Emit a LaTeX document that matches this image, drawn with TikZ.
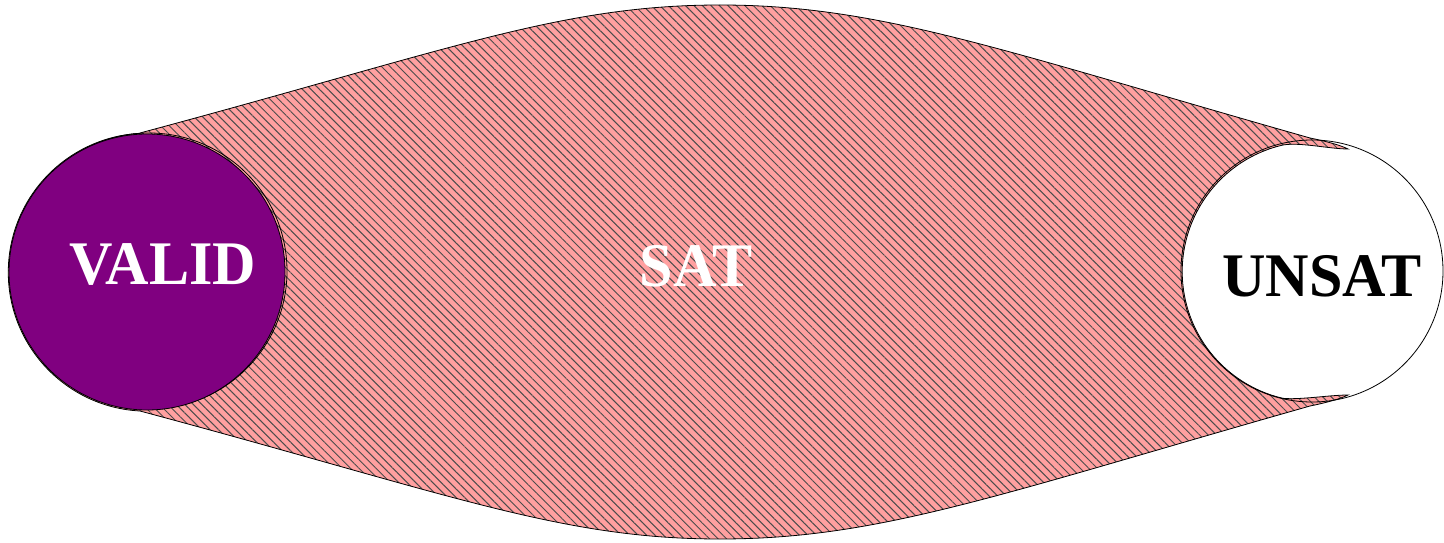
\documentclass[tikz,border=0pt]{standalone}
\usepackage{fontspec}
\setmainfont{Liberation Serif}
\usetikzlibrary{patterns.meta}
\definecolor{satpink}{RGB}{255,160,160}
\definecolor{validpurple}{RGB}{128,0,128}
\begin{document}
\begin{tikzpicture}[x=1pt,y=1pt,
  setlabel/.style={font=\fontsize{62}{62}\selectfont\bfseries, inner sep=0pt},
  outline/.style={draw=black, line width=0.8pt},
  hatch/.style={pattern={Lines[angle=-45,distance=6pt,line width=1pt]}, pattern color=black!70}]
\useasboundingbox (0,0) rectangle (1444,542);
% SAT region
\draw[outline, preaction={fill=satpink}, hatch]
  (140,409) .. controls (450,492) and (560,537) .. (720,537)
  .. controls (880,537) and (1000,492) .. (1310,404)
  .. controls (1325,401) and (1340,397) .. (1348,393)
  .. controls (1330,393) and (1300,400) .. (1283,397)
  arc[start angle=103, end angle=257, radius=130]
  .. controls (1300,142) and (1330,147) .. (1348,147)
  .. controls (1340,143) and (1325,139) .. (1310,136)
  .. controls (1000,48) and (880,3) .. (720,3)
  .. controls (560,3) and (450,48) .. (140,131)
  arc[start angle=267, end angle=93, radius=139] -- cycle;
% VALID circle
\draw[outline] (149,271) circle[radius=138];
\node[circle, outline, fill=validpurple, minimum size=276pt, inner sep=0pt] (valid) at (147,270) {};
% UNSAT circle
\node[circle, outline, minimum size=262pt, inner sep=0pt] (unsat) at (1312,271) {};
% labels
\node[setlabel, text=white] (validlabel) at (163,277) {\scalebox{0.97}[1]{VALID}};
\node[setlabel, text=white] (satlabel) at (696,276) {\scalebox{0.97}[1]{SAT}};
\node[setlabel, text=black] (unsatlabel) at (1322,266) {\scalebox{0.97}[1]{UNSAT}};
\end{tikzpicture}
\end{document}
